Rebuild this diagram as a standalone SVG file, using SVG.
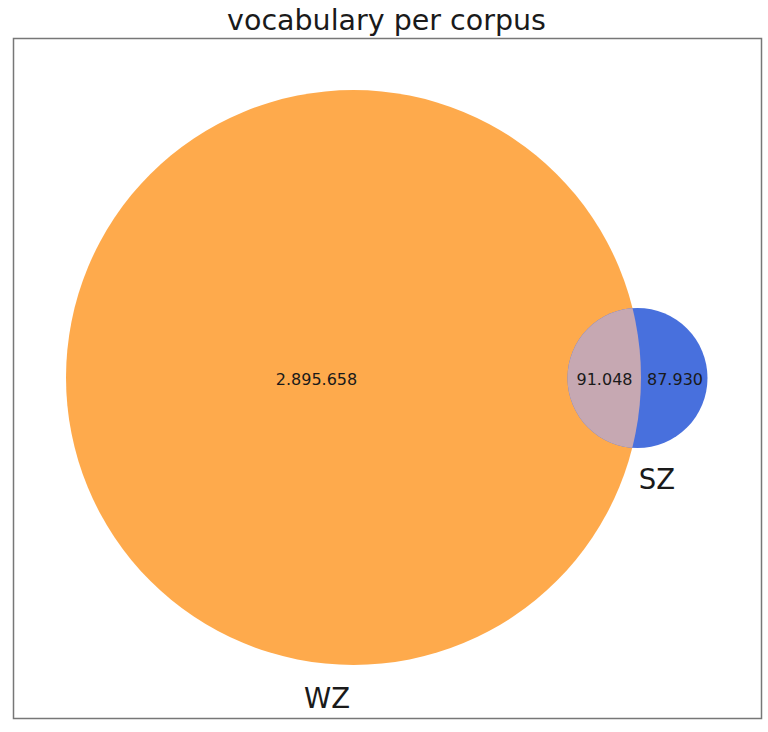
<svg xmlns="http://www.w3.org/2000/svg" width="768" height="732" viewBox="0 0 768 732">
<style>
.t{font-family:"DejaVu Sans",sans-serif;fill:#1a1a1a}
.n{font-size:16px;text-anchor:middle}
.l{font-size:27.5px;text-anchor:middle}
</style>
<rect width="768" height="732" fill="#fff"/>
<text class="t" x="386.5" y="30" font-size="28.5" text-anchor="middle">vocabulary per corpus</text>
<defs>
<clipPath id="cs"><circle cx="637.5" cy="378" r="70"/></clipPath>
</defs>
<g id="WZ">
<circle cx="353.5" cy="377.5" r="287.5" fill="#FEAA4C"/>
</g>
<g id="SZ">
<circle cx="637.5" cy="378" r="70" fill="#4870DD"/>
</g>
<g id="overlap">
<circle cx="353.5" cy="377.5" r="287.5" fill="#C6A8B2" clip-path="url(#cs)"/>
</g>
<rect x="13.5" y="38.5" width="748" height="680" fill="none" stroke="#777" stroke-width="1.5"/>
<text class="t n" x="316.5" y="385">2.895.658</text>
<text class="t n" x="604.5" y="385">91.048</text>
<text class="t n" x="675" y="385">87.930</text>
<text class="t l" x="657" y="489">SZ</text>
<text class="t l" x="327" y="708">WZ</text>
</svg>
